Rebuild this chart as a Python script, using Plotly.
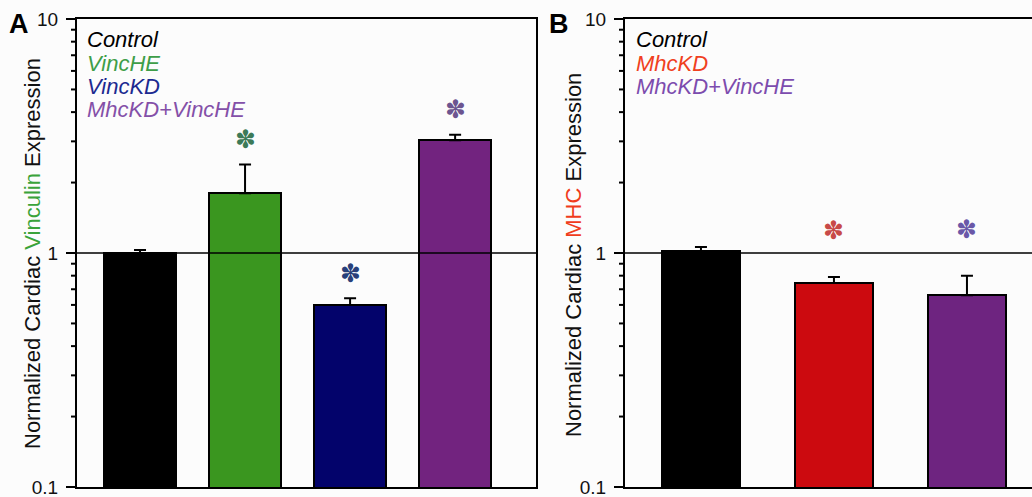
import math
import plotly.graph_objects as go

# ---------------- data ----------------
vinc_groups = ["Control", "VincHE", "VincKD", "MhcKD+VincHE"]
vinc_values = [1.00, 1.80, 0.60, 3.03]
vinc_errors = [0.03, 0.59, 0.04, 0.17]
vinc_significant = [False, True, True, True]

mhc_groups = ["Control", "MhcKD", "MhcKD+VincHE"]
mhc_values = [1.02, 0.745, 0.66]
mhc_errors = [0.04, 0.045, 0.14]
mhc_significant = [False, True, True]

y_tick_values = [0.1, 1, 10]
y_tick_labels = ["0.1", "1", "10"]
y_minor_values = [0.2, 0.3, 0.4, 0.5, 0.6, 0.7, 0.8, 0.9,
                  2, 3, 4, 5, 6, 7, 8, 9]

# ---------------- styles ----------------
FONT = "Arial, Liberation Sans, sans-serif"
BG = "#fcfcfc"
vinc_bar_colors = ["#000000", "#3a961f", "#03036b", "#72237f"]
vinc_text_colors = ["#000000", "#3e9e48", "#1c2a90", "#8450a8"]
vinc_star_colors = ["#000000", "#3c7a58", "#28407a", "#6c5590"]
mhc_bar_colors = ["#000000", "#cc0a0f", "#6e2480"]
mhc_text_colors = ["#000000", "#f0401e", "#7c4cae"]
mhc_star_colors = ["#000000", "#c84a48", "#6a58a8"]

W, H = 1032, 497
top_px, bot_px = 19, 487
ydom = [(H - bot_px) / H, (H - top_px) / H]
xdomA = [77 / W, 536 / W]
xdomB = [625 / W, 1.0]
YR = [-1.0000001, 1.0000001]
MINOR_LEN = 5  # px

fig = go.Figure()

fig.add_trace(go.Bar(
    x=list(range(len(vinc_groups))), y=vinc_values,
    marker=dict(color=vinc_bar_colors, line=dict(color="black", width=2)),
    width=0.69,
    error_y=dict(type="data", symmetric=False, array=vinc_errors,
                 arrayminus=[0] * len(vinc_errors),
                 color="black", thickness=2, width=6),
    xaxis="x", yaxis="y", showlegend=False, hovertext=vinc_groups,
))
fig.add_trace(go.Bar(
    x=list(range(len(mhc_groups))), y=mhc_values,
    marker=dict(color=mhc_bar_colors, line=dict(color="black", width=2)),
    width=0.58,
    error_y=dict(type="data", symmetric=False, array=mhc_errors,
                 arrayminus=[0] * len(mhc_errors),
                 color="black", thickness=2, width=6),
    xaxis="x2", yaxis="y2", showlegend=False, hovertext=mhc_groups,
))

yax = dict(type="log", range=YR, domain=ydom,
           tickmode="array", tickvals=y_tick_values, ticktext=y_tick_labels,
           ticks="outside", ticklen=9, tickwidth=2, tickcolor="black",
           ticklabelstandoff=4, ticklabeloverflow="allow",
           showline=True, linecolor="black", linewidth=2,
           showgrid=False, zeroline=False, automargin=False,
           tickfont=dict(family=FONT, size=19, color="#111"))

fig.update_layout(
    width=W, height=H,
    margin=dict(l=0, r=0, t=0, b=0),
    paper_bgcolor=BG, plot_bgcolor=BG,
    font=dict(family=FONT),
    bargap=0,
    xaxis=dict(domain=xdomA, range=[-0.6, 3.77], showticklabels=False,
               ticks="", showgrid=False, zeroline=False, showline=True,
               linecolor="black", linewidth=2, mirror=True, automargin=False),
    xaxis2=dict(domain=xdomB, range=[-0.571, 2.489], showticklabels=False,
                ticks="", showgrid=False, zeroline=False, showline=True,
                linecolor="black", linewidth=2, mirror=True, automargin=False,
                anchor="y2"),
    yaxis=dict(**yax, anchor="x", mirror=True),
    yaxis2=dict(**yax, anchor="x2", mirror=False),
)

# minor log ticks, outside-left of each y axis (paper coordinates, unclipped)
def log_to_paper(v):
    frac = (math.log10(v) - YR[0]) / (YR[1] - YR[0])
    return ydom[0] + frac * (ydom[1] - ydom[0])

minor_shapes = []
for dom in (xdomA, xdomB):
    for v in y_minor_values:
        yp = log_to_paper(v)
        minor_shapes.append(dict(type="line", xref="paper", yref="paper",
                                 x0=dom[0] - (MINOR_LEN + 1) / W, x1=dom[0],
                                 y0=yp, y1=yp, layer="above",
                                 line=dict(color="black", width=2)))

# reference line at 1
ref_shapes = [
    dict(type="line", xref="x domain", yref="y", x0=0, x1=1, y0=1, y1=1,
         line=dict(color="black", width=1.5)),
    dict(type="line", xref="x2 domain", yref="y2", x0=0, x1=1, y0=1, y1=1,
         line=dict(color="black", width=1.5)),
]
fig.update_layout(shapes=minor_shapes + ref_shapes)

ann = []
# significance stars
for i, (v, e, s) in enumerate(zip(vinc_values, vinc_errors, vinc_significant)):
    if s:
        ann.append(dict(x=i, y=math.log10(v + e), xref="x", yref="y",
                        text="✽", showarrow=False, yanchor="middle", yshift=25,
                        font=dict(family="DejaVu Sans", size=25,
                                  color=vinc_star_colors[i])))
for i, (v, e, s) in enumerate(zip(mhc_values, mhc_errors, mhc_significant)):
    if s:
        ann.append(dict(x=i, y=math.log10(v + e), xref="x2", yref="y2",
                        text="✽", showarrow=False, yanchor="middle", yshift=46,
                        font=dict(family="DejaVu Sans", size=25,
                                  color=mhc_star_colors[i])))

# in-plot group legends
for i, g in enumerate(vinc_groups):
    ann.append(dict(x=85 / W, y=(H - (40 + 23.3 * i)) / H, xref="paper", yref="paper",
                    xanchor="left", yanchor="middle", showarrow=False,
                    text="<i>%s</i>" % g,
                    font=dict(family=FONT, size=22, color=vinc_text_colors[i])))
for i, g in enumerate(mhc_groups):
    ann.append(dict(x=634 / W, y=(H - (40 + 23.3 * i)) / H, xref="paper", yref="paper",
                    xanchor="left", yanchor="middle", showarrow=False,
                    text="<i>%s</i>" % g,
                    font=dict(family=FONT, size=22, color=mhc_text_colors[i])))

# y axis titles
ann.append(dict(x=32 / W, y=(H - 254) / H, xref="paper", yref="paper",
                textangle=-90, showarrow=False, xanchor="center", yanchor="middle",
                text="Normalized Cardiac <span style='color:#3aa33a'>Vinculin</span> Expression",
                font=dict(family=FONT, size=22, color="#111")))
ann.append(dict(x=574 / W, y=(H - 255) / H, xref="paper", yref="paper",
                textangle=-90, showarrow=False, xanchor="center", yanchor="middle",
                text="Normalized Cardiac <span style='color:#f03c1c'>MHC</span> Expression",
                font=dict(family=FONT, size=22, color="#111")))

# panel labels
ann.append(dict(x=7 / W, y=(H - 24) / H, xref="paper", yref="paper",
                xanchor="left", yanchor="middle", showarrow=False, text="<b>A</b>",
                font=dict(family=FONT, size=27, color="black")))
ann.append(dict(x=547 / W, y=(H - 24) / H, xref="paper", yref="paper",
                xanchor="left", yanchor="middle", showarrow=False, text="<b>B</b>",
                font=dict(family=FONT, size=27, color="black")))

fig.update_layout(annotations=ann)
fig.write_html("out.html")
